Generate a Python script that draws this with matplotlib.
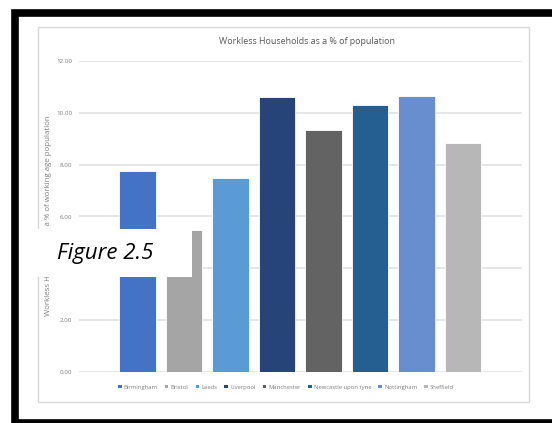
import matplotlib.pyplot as plt
from matplotlib.patches import Rectangle

cities = ["Birmingham", "Bristol", "Leeds", "Liverpool", "Manchester",
          "Newcastle upon tyne", "Nottingham", "Sheffield"]
workless = [7.75, 5.48, 7.48, 10.61, 9.33, 10.30, 10.65, 8.83]
colours = ["#4472C4", "#A5A5A5", "#5B9BD5", "#264478", "#636363",
           "#255E91", "#698ED0", "#B7B7B7"]
yticks = [0, 2, 4, 6, 8, 10, 12]

W, H = 552, 423
fig = plt.figure(figsize=(W / 100, H / 100), dpi=100)
plt.rcParams["font.family"] = ["Open Sans", "DejaVu Sans"]


def px(x, y):
    # pixel (from top-left) to figure fraction
    return x / W, 1 - y / H


# thick black frame, right edge runs off the page
fig.patches.append(Rectangle(px(14.5, 423), 600 / W, 409.5 / H, transform=fig.transFigure,
                             fill=False, ec="black", lw=5.5, zorder=0))
# light chart border
fig.patches.append(Rectangle(px(38, 402), (529 - 38) / W, (402 - 27) / H, transform=fig.transFigure,
                             fill=False, ec="#D9D9D9", lw=1.0, zorder=0))

l, b = px(79, 372)
r, t = px(522, 61)
ax = fig.add_axes([l, b, r - l, t - b])
ax.set_facecolor("none")

xs = range(len(cities))
bars = ax.bar(xs, workless, width=0.79, color=colours, edgecolor="white", linewidth=0.6,
              zorder=3)
ax.set_xlim(-1.26, 8.27)
ax.set_ylim(0, 12)
ax.set_yticks(yticks)
ax.set_yticklabels(["{:.2f}".format(v) for v in yticks], fontsize=4.5, color="#7F7F7F")
ax.tick_params(axis="y", length=0, pad=5)
ax.set_xticks([])
ax.grid(axis="y", color="#E4E4E4", lw=1.3, zorder=0)
for s in ax.spines.values():
    s.set_visible(False)

fig.text(*px(307, 41), "Workless Households as a % of population", ha="center", va="center",
         fontsize=6.4, color="#595959")
fig.text(*px(49, 216), "Workless Households as a % of working age population", rotation=90,
         ha="center", va="center", fontsize=5.7, color="#7F7F7F")

# legend row
leg = fig.legend(handles=list(bars), labels=cities, loc="center", bbox_to_anchor=px(286, 387),
                 ncol=8, frameon=False, fontsize=4.2, handlelength=0.6, handleheight=0.6,
                 handletextpad=0.35, columnspacing=1.25, labelcolor="#7F7F7F")
for h in leg.legend_handles:
    h.set_edgecolor("none")

# figure caption box over the axis label
fig.patches.append(Rectangle(px(20, 277), (192 - 20) / W, (277 - 229) / H, transform=fig.transFigure,
                             fc="white", ec="none", zorder=5))
fig.text(*px(105, 254), "Figure 2.5", ha="center", va="center", fontsize=16,
         style="italic", color="black", zorder=6)

fig.savefig("out.png", dpi=100)
